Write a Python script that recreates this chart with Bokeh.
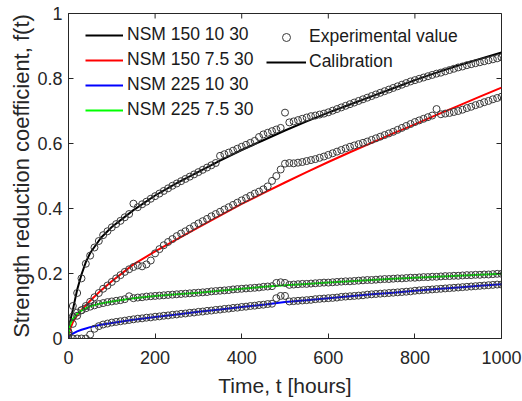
from bokeh.plotting import figure
from bokeh.models import (FixedTicker, Legend, LegendItem, ColumnDataSource)
from bokeh.embed import file_html
from bokeh.resources import INLINE

# ---------------- data ----------------
T_CAL = [0, 2, 5, 10, 20, 30, 40, 50, 75, 100, 150, 200, 250, 300, 350, 400, 450,
         500, 550, 600, 650, 700, 750, 800, 850, 900, 950, 1000]

CAL_150_10 = [0.0, 0.04, 0.06, 0.088, 0.15, 0.197, 0.235, 0.263, 0.31, 0.343, 0.395, 0.44,
              0.478, 0.513, 0.547, 0.58, 0.61, 0.64, 0.668, 0.695, 0.72, 0.745, 0.77,
              0.795, 0.818, 0.84, 0.86, 0.88]
CAL_150_75 = [0.0, 0.02, 0.033, 0.05, 0.072, 0.088, 0.102, 0.116, 0.148, 0.176, 0.228, 0.268,
              0.305, 0.342, 0.378, 0.414, 0.447, 0.48, 0.512, 0.543, 0.573, 0.602, 0.631,
              0.659, 0.688, 0.716, 0.744, 0.772]
CAL_225_10 = [0.005, 0.008, 0.011, 0.015, 0.022, 0.027, 0.031, 0.035, 0.042, 0.048, 0.058,
              0.066, 0.074, 0.082, 0.089, 0.097, 0.104, 0.112, 0.118, 0.124, 0.13, 0.136,
              0.141, 0.147, 0.152, 0.157, 0.162, 0.167]
CAL_225_75 = [0.01, 0.035, 0.048, 0.06, 0.076, 0.086, 0.093, 0.099, 0.108, 0.114, 0.124,
              0.131, 0.136, 0.141, 0.147, 0.153, 0.159, 0.164, 0.168, 0.172, 0.176, 0.18,
              0.184, 0.187, 0.19, 0.193, 0.196, 0.199]

T_EXP = list(range(0, 1001, 10))

EXP_150_10 = [0.02, 0.10, 0.14, 0.185, 0.23, 0.255, 0.28, 0.30, 0.318, 0.33,
              0.342, 0.352, 0.362, 0.373, 0.383, 0.415, 0.404, 0.413, 0.421, 0.43,
              0.438, 0.446, 0.454, 0.462, 0.47, 0.477, 0.484, 0.491, 0.498, 0.505,
              0.512, 0.519, 0.526, 0.533, 0.54, 0.562, 0.567, 0.572, 0.578, 0.584,
              0.59, 0.596, 0.602, 0.608, 0.62, 0.628, 0.633, 0.638, 0.643, 0.648,
              0.695, 0.665, 0.668, 0.672, 0.676, 0.68, 0.684, 0.686, 0.689, 0.692,
              0.696, 0.701, 0.706, 0.711, 0.716, 0.721, 0.726, 0.731, 0.736, 0.741,
              0.746, 0.751, 0.756, 0.761, 0.766, 0.771, 0.776, 0.781, 0.786, 0.791,
              0.795, 0.799, 0.803, 0.807, 0.811, 0.815, 0.818, 0.822, 0.826, 0.83,
              0.834, 0.837, 0.841, 0.844, 0.847, 0.85, 0.853, 0.856, 0.859, 0.862,
              0.865]
EXP_150_75 = [0.0, 0.045, 0.07, 0.087, 0.10, 0.113, 0.127, 0.14, 0.153, 0.163,
              0.174, 0.185, 0.195, 0.205, 0.213, 0.22, 0.225, 0.222, 0.228, 0.24,
              0.262, 0.275, 0.287, 0.297, 0.306, 0.315, 0.323, 0.33, 0.338, 0.346,
              0.354, 0.361, 0.368, 0.376, 0.383, 0.39, 0.397, 0.404, 0.411, 0.418,
              0.425, 0.432, 0.439, 0.446, 0.452, 0.459, 0.468, 0.485, 0.50, 0.52,
              0.538, 0.54, 0.539, 0.541, 0.543, 0.546, 0.549, 0.552, 0.556, 0.56,
              0.565, 0.57, 0.575, 0.58, 0.585, 0.59, 0.594, 0.598, 0.602, 0.606,
              0.611, 0.616, 0.621, 0.626, 0.631, 0.636, 0.642, 0.648, 0.654, 0.66,
              0.666, 0.671, 0.676, 0.681, 0.686, 0.706, 0.69, 0.692, 0.694, 0.697,
              0.70, 0.704, 0.709, 0.713, 0.718, 0.722, 0.727, 0.731, 0.736, 0.74,
              0.744]
EXP_225_10 = [0.02, 0.0, 0.0, 0.0, 0.0, 0.012, 0.03, 0.038, 0.043, 0.046,
              0.049, 0.051, 0.053, 0.055, 0.057, 0.059, 0.061, 0.062, 0.064, 0.065,
              0.067, 0.068, 0.07, 0.071, 0.073, 0.074, 0.076, 0.077, 0.079, 0.08,
              0.082, 0.083, 0.085, 0.086, 0.088, 0.089, 0.091, 0.092, 0.094, 0.095,
              0.097, 0.098, 0.10, 0.101, 0.103, 0.104, 0.106, 0.107, 0.124, 0.131,
              0.131, 0.114, 0.115, 0.116, 0.117, 0.118, 0.119, 0.121, 0.122, 0.123,
              0.124, 0.125, 0.126, 0.128, 0.129, 0.13, 0.131, 0.132, 0.133, 0.135,
              0.136, 0.137, 0.138, 0.139, 0.14, 0.141, 0.142, 0.143, 0.144, 0.145,
              0.147, 0.148, 0.149, 0.15, 0.151, 0.152, 0.153, 0.154, 0.155, 0.156,
              0.157, 0.158, 0.159, 0.16, 0.161, 0.162, 0.163, 0.164, 0.165, 0.166,
              0.166]
EXP_225_75 = [0.01, 0.068, 0.08, 0.087, 0.093, 0.098, 0.102, 0.106, 0.109, 0.112,
              0.114, 0.116, 0.118, 0.121, 0.13, 0.124, 0.126, 0.127, 0.129, 0.13,
              0.131, 0.132, 0.133, 0.134, 0.135, 0.136, 0.137, 0.138, 0.139, 0.14,
              0.141, 0.142, 0.143, 0.145, 0.146, 0.147, 0.148, 0.149, 0.151, 0.152,
              0.153, 0.154, 0.155, 0.156, 0.157, 0.159, 0.16, 0.161, 0.171, 0.173,
              0.171, 0.165, 0.166, 0.167, 0.168, 0.168, 0.169, 0.17, 0.171, 0.172,
              0.172, 0.173, 0.174, 0.175, 0.176, 0.176, 0.177, 0.178, 0.179, 0.18,
              0.18, 0.181, 0.182, 0.183, 0.183, 0.184, 0.185, 0.185, 0.186, 0.187,
              0.187, 0.188, 0.189, 0.189, 0.19, 0.19, 0.191, 0.192, 0.192, 0.193,
              0.193, 0.194, 0.195, 0.195, 0.196, 0.196, 0.197, 0.197, 0.198, 0.199,
              0.199]

SERIES_NAMES = ["NSM 150 10 30", "NSM 150 7.5 30", "NSM 225 10 30", "NSM 225 7.5 30"]
SERIES_COLORS = ["#000000", "#ff0000", "#0000ff", "#00ff00"]
X_TICKS = [0, 200, 400, 600, 800, 1000]
Y_TICKS = [0, 0.2, 0.4, 0.6, 0.8, 1.0]
Y_TICK_LABELS = ["0", "0.2", "0.4", "0.6", "0.8", "1"]
X_MIN, X_MAX = 0, 1000
Y_MIN, Y_MAX = 0, 1

cal_list = [CAL_150_10, CAL_150_75, CAL_225_10, CAL_225_75]
exp_list = [EXP_150_10, EXP_150_75, EXP_225_10, EXP_225_75]

# ---------------- figure ----------------
FONT = "Liberation Sans"
TXT = "#262626"

p = figure(width=522, height=401, x_range=(X_MIN, X_MAX), y_range=(Y_MIN, Y_MAX),
           output_backend="svg", toolbar_location=None,
           min_border_left=68, min_border_right=21, min_border_top=13,
           min_border_bottom=63)
p.background_fill_color = "white"
p.border_fill_color = "white"
p.outline_line_color = TXT
p.outline_line_width = 1
p.xgrid.visible = False
p.ygrid.visible = False

line_renderers = []
for vals, col in zip(cal_list, SERIES_COLORS):
    r = p.line(T_CAL, vals, line_color=col, line_width=2)
    line_renderers.append(r)

scatter_renderers = []
for vals in exp_list:
    src = ColumnDataSource(dict(t=T_EXP, f=vals))
    s = p.scatter("t", "f", source=src, marker="circle", size=7,
                  fill_color=None, line_color="#3a3a3a", line_width=1)
    scatter_renderers.append(s)

# inward ticks on the top and right edges of the box (clipped to the frame)
p.rect(x=X_TICKS, y=[Y_MAX] * len(X_TICKS), width=1, height=10,
       width_units="screen", height_units="screen", fill_color=TXT, line_color=None)
p.rect(x=[X_MAX] * len(Y_TICKS), y=Y_TICKS, width=10, height=1,
       width_units="screen", height_units="screen", fill_color=TXT, line_color=None)

p.xaxis.ticker = FixedTicker(ticks=X_TICKS)
p.yaxis.ticker = FixedTicker(ticks=Y_TICKS)
p.yaxis.major_label_overrides = {v: s for v, s in zip(Y_TICKS, Y_TICK_LABELS)}
for ax in p.xaxis + p.yaxis:
    ax.axis_line_color = TXT
    ax.axis_line_width = 1
    ax.major_tick_line_color = TXT
    ax.major_tick_in = 5
    ax.major_tick_out = 0
    ax.minor_tick_line_color = None
    ax.major_label_text_font = FONT
    ax.major_label_text_color = TXT
    ax.major_label_text_font_size = "18px"
    ax.axis_label_text_font = FONT
    ax.axis_label_text_font_style = "normal"
    ax.axis_label_text_color = TXT
p.xaxis.axis_label_text_font_size = "21px"
p.yaxis.axis_label_text_font_size = "22px"
p.xaxis.major_label_standoff = 12
p.yaxis.major_label_standoff = 6
p.xaxis.axis_label = "Time, t [hours]"
p.yaxis.axis_label = "Strength reduction coefficient, f(t)"
p.xaxis.axis_label_standoff = 7
p.yaxis.axis_label_standoff = 0

# ---------------- legends ----------------
def style_legend(lg):
    lg.background_fill_alpha = 0
    lg.border_line_alpha = 0
    lg.padding = 0
    lg.margin = 0
    lg.spacing = 4
    lg.glyph_height = 20
    lg.label_height = 20
    lg.glyph_width = 38
    lg.label_standoff = 4
    lg.label_text_font = FONT
    lg.label_text_font_size = "17.5px"
    lg.label_text_color = "#1a1a1a"

leg1 = Legend(items=[LegendItem(label=n, renderers=[r])
                     for n, r in zip(SERIES_NAMES, line_renderers)],
              location=(17, 218))
style_legend(leg1)
leg2 = Legend(items=[LegendItem(label="Experimental value", renderers=[scatter_renderers[0]]),
                     LegendItem(label="Calibration", renderers=[line_renderers[0]])],
              location=(198, 266))
style_legend(leg2)
leg2.glyph_width = 40
leg2.label_standoff = 3
p.add_layout(leg1)
p.add_layout(leg2)

open("out.html", "w").write(file_html(p, INLINE))
